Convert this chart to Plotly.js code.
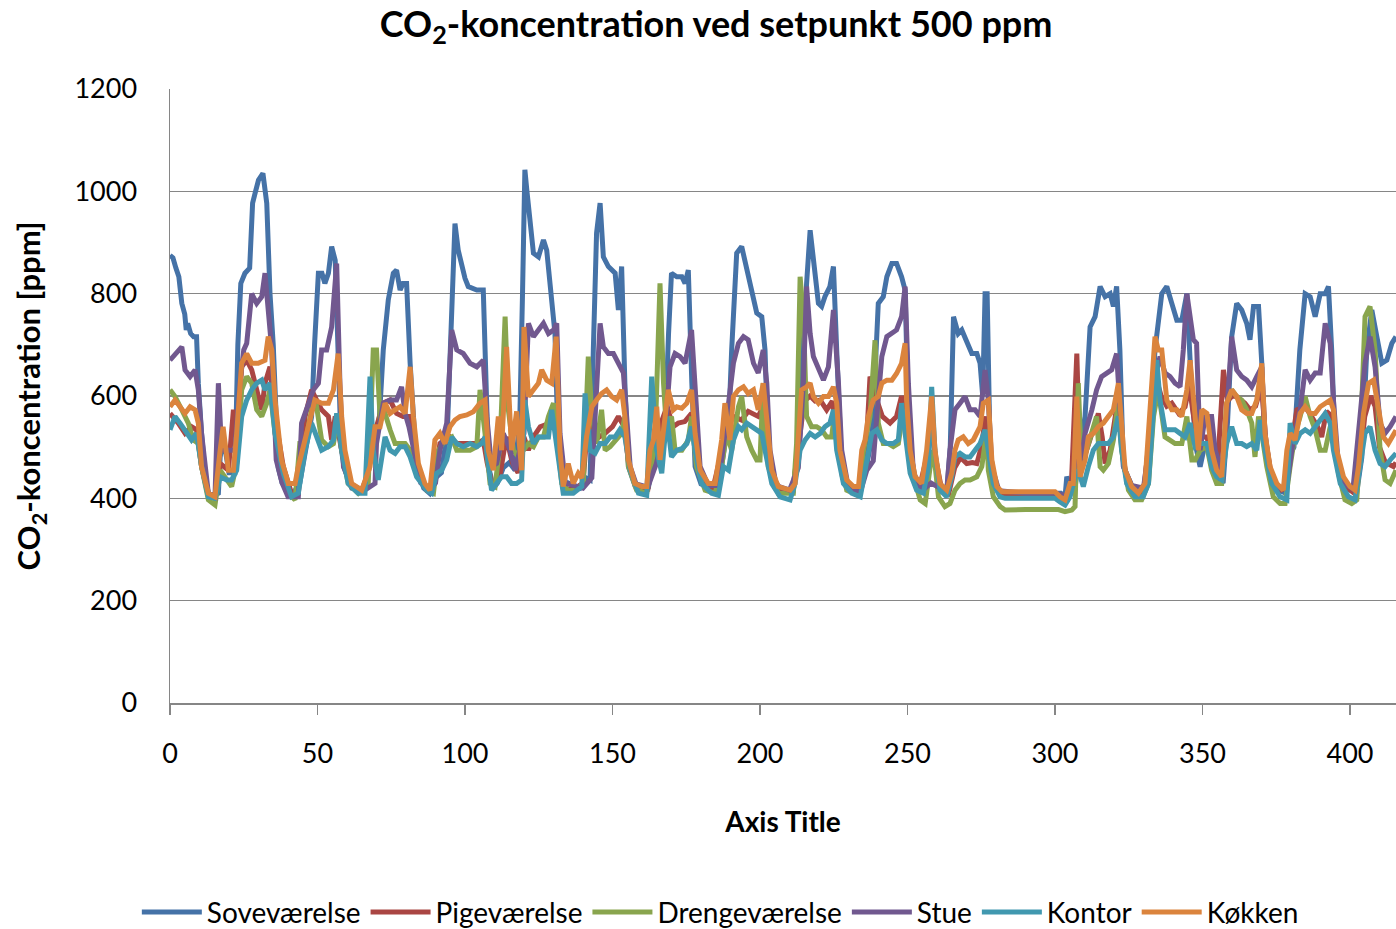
<!DOCTYPE html>
<html>
<head>
<meta charset="utf-8">
<script src="https://cdn.plot.ly/plotly-3.0.1.min.js"></script>
<style>html,body{margin:0;padding:0;background:#fff;}#chart{width:1396px;height:929px;}</style>
</head>
<body>
<div id="chart"></div>
<script>
const seriesNames = ["Soveværelse","Pigeværelse","Drengeværelse","Stue","Kontor","Køkken"];
const seriesColors = ["#4572A7","#AA4643","#89A54E","#71588F","#4198AF","#DB843D"];
const xTicks = [0,50,100,150,200,250,300,350,400];
const yTicks = [0,200,400,600,800,1000,1200];

const sove = [[0,875],[1,870],[2,850],[3,833],[4,781],[5,760],[5.5,729],[6,742],[7,722],[8,716],[9,716],[9.6,625],[10.7,527],[12,440],[13,410],[15,405],[16.4,410],[17,480],[18,520],[20,450],[22,450],[23,700],[24,820],[25.4,840],[27,850],[28,977],[29,1000],[30,1022],[31.5,1035],[32.8,977],[33.9,800],[35,700],[36.7,460],[38,430],[40,415],[42,412],[44,430],[46,500],[48,560],[49,700],[50.3,840],[51.5,840],[52.5,820],[53.7,840],[54.8,892],[56,865],[57,700],[58,500],[59,460],[61.6,420],[64,416],[66,416],[68,480],[70,520],[71,560],[72.3,690],[74,788],[75.7,840],[76.8,846],[78,807],[79,820],[80.2,820],[81.4,664],[82.5,560],[83.6,462],[86,420],[88,410],[90,440],[92,450],[94,530],[95,690],[96.6,937],[97.7,885],[98.9,853],[100,830],[101.1,814],[104,807],[106.2,807],[106.8,690],[108,462],[109.6,420],[111,430],[113,460],[115,470],[117,455],[118.6,560],[119.5,800],[120.3,1042],[121,1000],[122,950],[123.2,879],[124.9,872],[126.6,905],[127.7,885],[128.8,820],[130.5,722],[131.6,500],[133.3,420],[135,430],[137,425],[139,420],[141,440],[142.4,436],[143.5,690],[144.6,918],[145.8,977],[146.9,872],[148.6,853],[150.9,840],[152,768],[153.1,853],[154.2,625],[155.4,462],[157.6,425],[160,420],[162.2,422],[164,480],[166,500],[168,560],[169,722],[170,840],[171.8,833],[173.5,833],[174.6,820],[175.7,846],[176.9,625],[178,462],[180,428],[183,420],[186,425],[188,500],[189.5,560],[190.4,690],[192.1,879],[193.8,892],[195.5,846],[197.2,807],[198.9,762],[200.6,755],[201.7,690],[202.8,494],[205,425],[208,418],[211.3,415],[212.5,480],[213.6,600],[215.8,820],[217,924],[218.1,872],[219.8,781],[220.9,775],[222,794],[223.7,814],[224.9,853],[226,690],[227.7,462],[229.4,425],[232,416],[234,416],[236,460],[238,520],[239.6,690],[240.1,781],[241.8,794],[243,833],[244.7,859],[246.3,859],[248,833],[249.2,807],[249.7,690],[250.9,494],[252.6,440],[254.3,410],[256,430],[258.2,560],[259.3,480],[261,420],[263.3,410],[264.5,500],[265.6,755],[267.2,722],[268.4,729],[270.1,703],[271.8,683],[273.5,683],[274.6,664],[275.5,600],[276.3,800],[277,800],[278,494],[279.7,420],[282,410],[286,410],[290,410],[295,410],[300,410],[302,410],[303.4,402],[304,442],[305,430],[306.8,420],[308,480],[310.2,560],[311.9,735],[313.6,755],[315.3,814],[317,794],[318.7,800],[319.8,775],[320.9,814],[322,690],[323.2,462],[326,425],[328,418],[330.5,425],[332,500],[333.9,690],[336.2,800],[337.9,814],[339.6,781],[341.3,748],[343,748],[344.7,800],[346.4,600],[348,494],[349.2,462],[351,510],[353,490],[355,440],[357,430],[358.5,550],[359.9,716],[361.6,781],[363.3,768],[365,742],[366.1,710],[367.3,775],[369,775],[370.1,664],[371.2,494],[373,440],[375,418],[377.4,412],[379,480],[381,500],[383,690],[384.8,800],[386.5,794],[388.2,755],[389.9,800],[391.6,800],[392.7,814],[393.8,690],[395,494],[397,440],[399,418],[402.3,412],[404,480],[405.7,690],[407.4,768],[409.1,716],[410.8,664],[412.5,670],[414.2,703],[415.6,716]];

const pige = [[0,566],[2.8,547],[5.1,527],[7.3,540],[9,534],[10.7,462],[13,406],[15.25,403],[17,468],[19.8,455],[21.5,573],[22.6,514],[24.3,657],[26,670],[27.7,651],[29.4,612],[31.1,573],[32.2,625],[33.9,657],[35.6,560],[38.4,462],[41.2,410],[43.5,410],[45.8,560],[48,612],[49.7,592],[51.4,573],[53.7,560],[54.8,514],[56,560],[58.2,494],[61,429],[65,416],[67.2,449],[69,520],[72.3,586],[74.6,592],[76.8,566],[79,560],[81.4,560],[83.6,455],[87,418],[89.5,430],[91.5,507],[94.9,520],[97.2,507],[100.6,507],[104,507],[106.2,514],[107.5,470],[109.5,420],[112,450],[114,520],[116,470],[118,450],[120,520],[121.5,494],[123.2,520],[125.5,540],[128.8,547],[130.5,560],[132,480],[134,418],[137,418],[140,430],[141.5,540],[143.5,540],[145.5,520],[147.5,527],[150,540],[152,560],[154,540],[155.4,470],[158,420],[162,418],[164,500],[166,540],[168.5,580],[170.5,540],[172.3,547],[174.5,550],[176.8,566],[178,510],[180,440],[184,418],[187,490],[189,540],[191,560],[193.8,553],[196,570],[199.4,560],[201.1,580],[202.5,520],[204,445],[207,416],[211,414],[213,500],[215,590],[217,600],[218.7,590],[220.4,592],[222.6,573],[224.5,590],[226,520],[228,440],[231,418],[234,414],[236,500],[237.3,638],[239.6,592],[241.5,560],[244.1,547],[246.3,560],[248,600],[249.2,560],[251,460],[254,420],[256.5,480],[258.2,560],[259.5,480],[261.5,420],[264,410],[266,460],[268,480],[270.1,468],[272,470],[273.5,468],[275,500],[276.5,560],[277.5,500],[279,430],[282,408],[290,408],[300,408],[303.4,395],[305.5,420],[307.4,683],[308.5,460],[310.5,490],[312.5,530],[314.7,566],[316,520],[317,468],[318.7,494],[320,540],[321.5,600],[322.6,500],[324.5,430],[327,408],[330,410],[332,520],[334,640],[336,600],[337.9,580],[339.6,586],[341.9,566],[344.1,579],[345.5,620],[347.5,540],[349.5,520],[351.5,520],[353.1,480],[355,450],[357.1,651],[358.5,590],[360,600],[361.6,599],[364.4,586],[366.1,573],[368,580],[370,620],[371.5,510],[373.5,440],[376,415],[378.5,420],[380,500],[382,573],[384.8,579],[387,560],[389,540],[390.4,520],[392,570],[394,560],[395.5,480],[398,425],[401,412],[403.4,470],[405,560],[407,600],[408.5,580],[410,500],[412,470],[414.7,462],[415.6,470]];

const dreng = [[0,612],[1.7,599],[4,573],[6.2,547],[7.9,514],[9.6,507],[10.7,462],[13,397],[15.25,387],[17,455],[18.6,442],[20.9,423],[22.6,468],[24.3,612],[26,638],[27.7,625],[29.4,573],[31.1,560],[32.8,586],[33.9,612],[35.6,527],[37.8,462],[40.1,410],[42.4,397],[44,507],[45.8,507],[48,573],[49.7,579],[51.4,514],[53.7,501],[55.4,507],[57,560],[58.2,494],[60.4,429],[63.8,410],[67.2,429],[68.9,690],[70,690],[71.2,560],[72.9,566],[74.6,534],[76.3,507],[78,507],[79.7,507],[81.4,494],[83.6,455],[87,416],[89.3,410],[91,494],[93.2,514],[95.5,520],[97.2,494],[99.4,494],[101.7,494],[104,501],[105.1,612],[106.8,527],[108.5,429],[110.2,423],[111.9,507],[113.6,755],[114.7,573],[116.4,494],[118.1,481],[119.8,494],[121.5,507],[123.2,501],[124.9,520],[126.6,520],[128.3,560],[130,586],[131.1,527],[132.8,429],[135,415],[137.3,416],[140.1,429],[141.8,677],[143,566],[144.6,507],[146.3,573],[147.5,494],[149.2,501],[151.4,514],[153.1,527],[154.2,560],[155.4,462],[158.2,416],[161.6,410],[164.4,507],[166.1,820],[167.3,625],[168.4,527],[170,560],[171.2,494],[173.5,494],[175.7,514],[176.8,560],[178.5,462],[181.4,416],[184.8,410],[187,462],[188.7,527],[190.4,494],[192.7,579],[193.8,599],[195.5,520],[197.2,494],[198.9,475],[200,475],[201.1,625],[202.8,462],[206.2,410],[211.3,410],[212.4,507],[213.6,833],[214.7,755],[215.8,560],[217.5,540],[219.2,540],[220.9,534],[222.6,520],[224.3,520],[225.4,573],[226.6,494],[229.4,416],[233.4,406],[235.1,494],[237.3,560],[239,709],[240.1,547],[241.8,507],[243.5,507],[245.2,501],[246.9,507],[248.6,573],[249.7,527],[251.4,455],[254.3,397],[256,390],[257.7,462],[258.8,494],[260.5,403],[262.7,384],[264.4,390],[266.1,416],[267.8,429],[269.5,436],[271.2,436],[273.5,442],[275.2,462],[276.9,534],[277.4,455],[279.1,403],[281.4,384],[283.1,377],[290,378],[295,378],[301.2,378],[303.4,374],[305.7,377],[306.8,384],[307.9,625],[309,462],[310.8,494],[312.5,527],[314.1,560],[315.3,462],[316.4,455],[318.1,468],[319.8,514],[321.5,592],[322.6,494],[324.9,416],[327.1,397],[329.4,397],[331.7,429],[333.4,560],[335,612],[337.3,520],[339,514],[340.7,507],[343,507],[344.7,560],[346.4,475],[347.5,475],[349.2,494],[351.5,501],[353.1,455],[354.8,429],[356.5,429],[358.2,586],[359.9,612],[361.6,599],[363.3,592],[365,573],[366.7,547],[367.8,481],[369,560],[370.1,527],[371.8,462],[374,403],[376.3,390],[378,390],[379.7,462],[381.4,527],[383.1,560],[384.8,599],[386.5,560],[388.2,534],[389.9,494],[391.6,494],[393.3,540],[394.4,527],[396.1,449],[398.3,397],[400.6,390],[402.3,397],[403.4,494],[405.1,755],[406.8,775],[408.5,690],[410.2,494],[411.9,436],[413.6,429],[415.6,455]];

const stue = [[0,670],[2.3,684],[4,696],[5.1,651],[6.8,638],[8.5,651],[9.6,612],[10.7,527],[13,410],[15.25,403],[16.4,625],[17.5,494],[19.2,494],[22,494],[23.7,625],[25,690],[26,703],[27.7,800],[29.4,781],[31.1,794],[32.2,840],[33.3,755],[34.5,690],[36,475],[38,430],[40,403],[43.5,403],[44.6,547],[46.9,586],[48.6,612],[50.3,625],[51.4,690],[53.1,690],[54.8,735],[56.5,859],[57.6,625],[58.8,462],[61.6,423],[66.1,416],[69.5,429],[70,507],[72.3,586],[74.6,592],[76.8,592],[78.5,618],[79.7,566],[81,540],[82.5,494],[85,430],[88,416],[90,430],[91.5,494],[93.8,547],[95.5,729],[97.2,690],[99.4,683],[101.7,664],[104,657],[106.2,670],[107.4,560],[109,462],[110.7,468],[113,527],[115.3,494],[117,455],[118.6,494],[120,527],[121.5,742],[123.2,716],[124.9,729],[126.6,742],[128.3,722],[130,729],[131.1,742],[132.2,527],[134,430],[137,425],[140,420],[143,440],[144.6,625],[145.8,742],[146.9,696],[148.6,683],[150.3,683],[152,664],[153.7,645],[154.8,560],[156,462],[158,428],[162,422],[165,470],[167.8,527],[169.5,657],[171.2,683],[172.9,677],[174.6,664],[176.8,729],[178,625],[179.7,462],[182.5,425],[185,425],[187,475],[189.3,592],[191,664],[192.7,703],[194.4,716],[196,710],[197.8,664],[199.4,645],[201.1,690],[202.3,625],[203.4,494],[205.5,425],[210,416],[213,460],[214.7,625],[215.8,814],[217,722],[218.1,677],[219.8,651],[221.5,631],[223.2,657],[224.9,768],[226.6,625],[227.7,494],[230,420],[234,412],[236.2,455],[238.4,473],[239.6,560],[241.3,677],[243,716],[244.7,722],[246.3,729],[248,755],[249.2,814],[250.3,625],[252,450],[255,415],[258,430],[261,420],[263.3,415],[264.4,494],[266.1,573],[267.8,586],[269.5,599],[271.2,573],[272.9,573],[274.6,560],[276.3,651],[277.4,592],[278.6,462],[281,415],[290,410],[300,410],[304,405],[306,425],[307.4,520],[308.5,460],[310.2,527],[312.5,573],[314.1,612],[315.8,638],[317.5,645],[319.2,651],[320.9,683],[322,592],[323.2,462],[326,425],[330,420],[331.7,494],[333.4,625],[335.6,677],[337.3,645],[339,638],[340.7,625],[342.4,618],[343.5,690],[344.7,800],[345.8,760],[346.9,710],[348,703],[349.2,494],[350.9,560],[353.1,560],[354.3,494],[356.5,455],[358.2,560],[359.9,716],[361.6,651],[363.3,638],[365,631],[366.7,618],[368.4,638],[370.1,657],[371.2,527],[373,450],[376,418],[378.5,420],[380.8,514],[383.1,573],[384.8,651],[386.5,631],[388.2,645],[389.9,645],[391.6,742],[393.3,703],[394.4,592],[396,470],[398,430],[401,418],[403.4,560],[405.1,664],[406.8,716],[408.5,657],[410.2,547],[411.9,527],[413.6,540],[415.6,560]];

const kontor = [[0,534],[1.7,560],[3.4,547],[5.1,534],[7.3,514],[9,527],[10.7,462],[13,403],[15.25,400],[17,442],[19.2,436],[20.9,436],[22.6,455],[24.3,560],[26,592],[27.7,612],[29.4,625],[31.1,631],[32.2,612],[33.9,625],[35.6,527],[38.4,449],[41.2,403],[43.5,410],[45.8,494],[48,547],[49.7,520],[51.4,494],[53.7,501],[55.4,514],[56.5,566],[58.2,494],[60.4,429],[63.8,410],[66.1,410],[67.8,638],[68.9,494],[70.6,436],[72.9,520],[74.6,494],[76.3,488],[78,501],[79.7,501],[81.4,481],[83.6,442],[87,416],[88.7,410],[90.4,449],[92.1,455],[93.8,475],[95.5,520],[97.2,507],[99.4,501],[101.7,507],[104,501],[105.6,507],[106.8,520],[107.9,462],[109,416],[110.7,429],[112.4,442],[114.1,442],[115.8,429],[117.5,429],[119.2,436],[120.3,592],[121.5,540],[123.2,507],[124.9,520],[126.6,520],[128.3,520],[129.4,573],[131.1,494],[133.3,410],[136.7,410],[139.6,423],[140.7,605],[142.4,494],[144.1,488],[145.8,507],[147.5,507],[149.2,520],[150.9,520],[152.5,534],[154.2,520],[156,455],[158.8,410],[161.6,406],[163.3,638],[165,494],[166.7,449],[168.4,560],[170,481],[171.8,494],[173.5,497],[175.2,507],[176.8,540],[178,494],[180.2,429],[183.6,410],[185.9,406],[187.6,462],[189.3,455],[191,514],[192.7,540],[193.8,534],[195.5,547],[197.2,540],[198.9,534],[200.6,527],[201.7,494],[204,429],[206.8,403],[210.2,397],[211.9,429],[213.6,494],[215.3,514],[217,527],[218.7,520],[220.4,527],[222,540],[223.7,547],[224.9,573],[226,494],[228.3,429],[231.1,410],[234,403],[236.2,481],[237.9,527],[239.6,534],[241.3,514],[243,507],[245.2,507],[246.9,514],[248,586],[249.2,527],[250.9,449],[253.1,416],[255.4,410],[257.1,462],[258.2,618],[259.3,494],[261,416],[263.3,403],[265,442],[266.1,481],[267.8,488],[269.5,481],[271.2,481],[272.9,494],[274.6,507],[276.3,534],[277.4,494],[279.1,429],[281.4,403],[283.1,400],[290,400],[295,400],[300,400],[301.7,393],[303.4,387],[305.1,403],[306.8,442],[307.9,455],[309.6,423],[311.3,462],[313,494],[314.7,507],[316.4,507],[318.1,507],[319.8,520],[321.5,560],[322.6,494],[324.3,429],[327.1,403],[329.9,403],[331.7,429],[333.4,560],[334.5,670],[335.6,592],[337.3,534],[339,534],[340.7,534],[342.4,527],[344.1,520],[345.8,547],[347.5,501],[349.2,507],[351.5,507],[353.1,462],[354.8,442],[356.5,436],[358.2,507],[359.9,540],[361.6,507],[363.3,507],[365,501],[366.7,507],[368.4,494],[369.5,553],[371.2,494],[373.5,429],[376.3,403],[378.6,397],[379.7,547],[381.4,507],[383.1,527],[384.8,534],[386.5,527],[388.2,540],[389.9,553],[391.6,566],[393.3,547],[394.4,494],[396.7,429],[399.5,403],[401.7,397],[403.4,462],[405.1,527],[406.8,540],[408.5,494],[410.2,468],[411.9,462],[413.6,475],[415.6,488]];

const kokken = [[0,579],[1.7,592],[3.4,579],[5.1,566],[6.8,579],[8.5,573],[9.6,547],[10.7,462],[13,410],[15.25,403],[17,494],[18,540],[19.8,455],[21.5,455],[22.6,527],[24.3,664],[26,683],[27.7,664],[29.9,664],[32.2,670],[33.3,716],[34.5,690],[35.6,592],[37.8,475],[40.1,429],[42.4,429],[43.5,462],[45.8,520],[48,566],[49.1,592],[51.4,586],[53.7,586],[55.4,612],[57,683],[58.2,560],[59.3,494],[61.6,429],[65,416],[67.2,455],[67.8,462],[69.5,540],[71.2,540],[72.9,586],[74.6,566],[76.3,573],[78,579],[79.7,566],[81.4,657],[82.5,560],[84.2,468],[86.4,429],[88.1,416],[89.8,514],[91.5,527],[93.2,507],[94.9,540],[96.6,553],[98.3,560],[100.6,563],[102.8,569],[105.1,586],[106.8,592],[107.9,494],[109.6,455],[111.3,560],[112.4,494],[114.1,696],[115.8,494],[117.5,570],[119.2,455],[120,735],[121.5,599],[123.2,612],[124.9,625],[126,651],[127.7,631],[129.4,625],[130.9,716],[132.2,494],[133.3,423],[135,468],[136.7,429],[138.4,449],[139.6,440],[141.2,520],[143,579],[144.6,592],[146.3,605],[148,612],[149.7,599],[151.4,592],[153.1,612],[154.2,560],[155.4,475],[157.6,429],[159.9,423],[161.6,423],[162.7,494],[163.9,514],[165,579],[166.1,475],[167.3,540],[168.9,612],[170.6,573],[171.8,579],[173.5,576],[175.2,586],[176.8,612],[178,527],[179.7,455],[182.5,429],[184.8,429],[187,514],[188.1,586],[189.8,514],[191,599],[192.7,612],[194.4,618],[196,605],[197.8,612],[199.4,573],[201.1,625],[202.3,560],[204,455],[206.2,423],[210.2,416],[211.9,429],[213,527],[214.1,612],[215.8,618],[217,625],[218.1,599],[219.8,586],[221.5,599],[223.2,599],[224.9,618],[226,586],[227.1,494],[229.4,436],[231.7,423],[233.4,423],[234.5,494],[235.6,514],[236.7,560],[238.4,592],[240.1,599],[241.3,625],[243,631],[244.7,631],[246.3,644],[248,664],[249.2,703],[249.7,592],[250.9,494],[252.6,442],[254.8,429],[256.5,494],[258.2,599],[259.3,494],[261,429],[263.3,416],[265,449],[266.1,494],[267.2,514],[268.9,520],[270.6,507],[272.3,514],[274.6,540],[275.7,586],[277.4,592],[278.6,475],[280.3,423],[282,413],[286,413],[290,413],[295,413],[300,413],[301.7,403],[303.4,397],[305.1,429],[306.2,429],[307.4,599],[308.5,442],[310.2,475],[311.3,520],[313,527],[314.7,540],[316.4,547],[318.1,560],[319.8,573],[321.5,625],[322.6,527],[323.8,455],[326,423],[328.3,410],[330.5,429],[332.2,560],[333.9,716],[335,690],[336.2,690],[337.9,592],[339.6,573],[341.3,573],[343,560],[344.7,612],[345.8,670],[347.5,560],[348.6,494],[349.8,573],[351.5,566],[353.1,494],[354.8,455],[356.5,442],[358.2,586],[359.9,612],[361.6,599],[363.3,573],[365,566],[366.7,566],[368.4,592],[370.1,664],[371.2,527],[372.9,462],[375.2,429],[377.4,416],[378.6,494],[379.7,527],[381.4,514],[383.1,566],[384.8,579],[386.5,566],[388.2,566],[389.9,579],[391.6,586],[393.3,592],[394.4,573],[395.5,494],[397.8,442],[400,423],[401.7,416],[402.9,462],[404.6,566],[406.3,625],[408,631],[409.6,573],[411.3,520],[413,507],[414.7,527],[415.6,533]];

const allSeries = [sove, pige, dreng, stue, kontor, kokken];
const traces = allSeries.map((s, i) => ({
  type: 'scatter', mode: 'lines', name: seriesNames[i],
  x: s.map(p => p[0]), y: s.map(p => p[1]),
  line: {color: seriesColors[i], width: 5, shape: 'linear'},
  hoverinfo: 'skip'
}));

const fam = 'Lato, "Open Sans", sans-serif';
const layout = {
  width: 1396, height: 929,
  margin: {l: 170, r: 0, t: 89, b: 226},
  paper_bgcolor: '#fff', plot_bgcolor: '#fff',
  font: {family: fam, size: 28, color: '#000'},
  title: {text: '<b>CO<sub>2</sub>-koncentration ved setpunkt 500 ppm</b>', x: 0.513, xanchor: 'center', y: 0.974, yanchor: 'middle', font: {size: 36, family: fam, color: '#000'}},
  xaxis: {range: [0, 415.6], tickvals: xTicks, ticktext: xTicks.map(String), showgrid: false, zeroline: false,
    showline: true, linecolor: '#868686', linewidth: 1.5, ticks: 'outside', ticklen: 10, tickcolor: '#868686', tickwidth: 1.5,
    ticklabelstandoff: 16, tickfont: {size: 27, family: fam},
    title: {text: '<b>Axis Title</b>', font: {size: 28, family: fam}, standoff: 44}},
  yaxis: {range: [0, 1200], tickvals: yTicks, ticktext: yTicks.map(String), showgrid: true, gridcolor: '#868686', gridwidth: 1.5,
    zeroline: false, showline: true, linecolor: '#868686', linewidth: 1.5, ticks: '',
    ticklabelstandoff: 26, tickfont: {size: 27, family: fam},
    title: {text: '<b>CO<sub>2</sub>-koncentration [ppm]</b>', font: {size: 31, family: fam}, standoff: 24}},
  showlegend: true,
  legend: {orientation: 'h', xref: 'container', yref: 'container', x: 0.516, xanchor: 'center', y: 0.018, yanchor: 'middle',
    font: {size: 28, family: fam}, itemwidth: 60, tracegroupgap: 0, itemclick: false},
};
Plotly.newPlot('chart', traces, layout, {displayModeBar: false, staticPlot: true});
</script>
</body>
</html>
